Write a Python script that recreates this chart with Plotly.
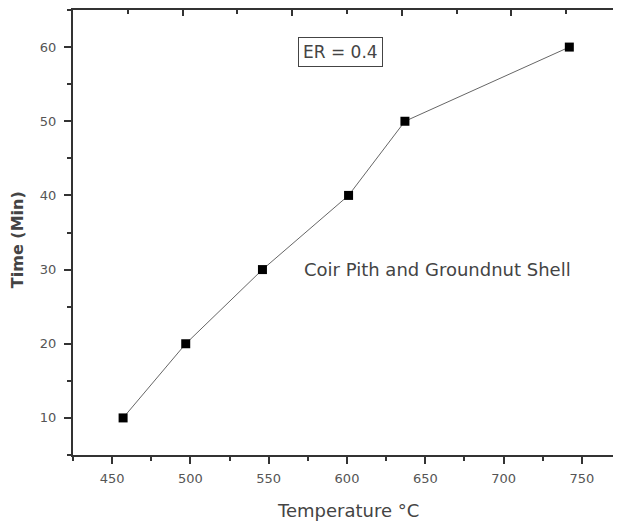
import plotly.graph_objects as go

temperature = [457, 497, 546, 601, 637, 742]
time_min = [10, 20, 30, 40, 50, 60]
x_ticks = [450, 500, 550, 600, 650, 700, 750]
y_ticks = [10, 20, 30, 40, 50, 60]

FONT = "DejaVu Sans, Liberation Sans, Arial, sans-serif"
AX = "#333333"
TXT = "#555555"
LBL = "#444444"

fig = go.Figure()
fig.add_trace(go.Scatter(
    x=temperature, y=time_min, mode="lines+markers",
    line=dict(color="#666666", width=1),
    marker=dict(symbol="square", size=9, color="black"),
    showlegend=False, hoverinfo="x+y",
))
# empty trace so the top/right frame axes are drawn
fig.add_trace(go.Scatter(x=[None], y=[None], xaxis="x2", yaxis="y2",
                         mode="markers", showlegend=False, hoverinfo="skip"))

fig.update_layout(
    width=613, height=517,
    margin=dict(l=65, r=0, t=2, b=70, autoexpand=False),
    paper_bgcolor="white", plot_bgcolor="white",
    font=dict(family=FONT, color=TXT, size=13),
    xaxis=dict(
        range=[425, 775], tickvals=x_ticks, ticks="outside", ticklen=7, tickwidth=2,
        tickcolor=AX, showline=True, linecolor=AX, linewidth=2, showgrid=False, zeroline=False,
        minor=dict(dtick=25, tick0=425, ticks="outside", ticklen=4, tickwidth=2, tickcolor=AX),
        tickfont=dict(size=13, color=TXT), ticklabelstandoff=3, automargin=False,
    ),
    yaxis=dict(
        range=[5, 65], tickvals=y_ticks, ticks="outside", ticklen=7, tickwidth=2,
        tickcolor=AX, showline=True, linecolor=AX, linewidth=2, showgrid=False, zeroline=False,
        minor=dict(dtick=5, tick0=5, ticks="outside", ticklen=4, tickwidth=2, tickcolor=AX),
        tickfont=dict(size=13, color=TXT), ticklabelstandoff=5, automargin=False,
    ),
    xaxis2=dict(
        overlaying="x", side="top", anchor="y2", range=[0, 1], dtick=0.2, tick0=0,
        ticks="inside", ticklen=6, tickwidth=2, tickcolor=AX, showticklabels=False,
        showline=True, linecolor=AX, linewidth=2, showgrid=False, zeroline=False,
        minor=dict(dtick=0.1, ticks="inside", ticklen=4, tickwidth=2, tickcolor=AX),
        automargin=False,
    ),
    yaxis2=dict(
        overlaying="y", side="right", anchor="x2", range=[0, 1], dtick=0.2, tick0=0,
        ticks="inside", ticklen=6, tickwidth=2, tickcolor=AX, showticklabels=False,
        showline=False, showgrid=False, zeroline=False,
        minor=dict(dtick=0.1, ticks="inside", ticklen=4, tickwidth=2, tickcolor=AX),
        automargin=False,
    ),
)

# axis titles
fig.add_annotation(
    x=0.501, y=-0.124, xref="paper", yref="paper", text="Temperature °C",
    showarrow=False, xanchor="center", yanchor="middle",
    font=dict(family=FONT, size=18, color=LBL),
)
fig.add_annotation(
    x=-0.102, y=0.483, xref="paper", yref="paper", text="<b>Time (Min)</b>",
    showarrow=False, xanchor="center", yanchor="middle", textangle=-90,
    font=dict(family=FONT, size=16, color=LBL),
)

fig.add_annotation(
    x=571, y=30, xref="x", yref="y", text="Coir Pith and Groundnut Shell",
    showarrow=False, xanchor="left", yanchor="middle",
    font=dict(family=FONT, size=18, color=LBL),
)
fig.add_annotation(
    x=596, y=59.3, xref="x", yref="y", text="ER = 0.4",
    showarrow=False, xanchor="center", yanchor="middle",
    font=dict(family=FONT, size=17, color=LBL),
    bordercolor="#444444", borderwidth=1, borderpad=4, bgcolor="white",
)

fig.write_html("out.html")
